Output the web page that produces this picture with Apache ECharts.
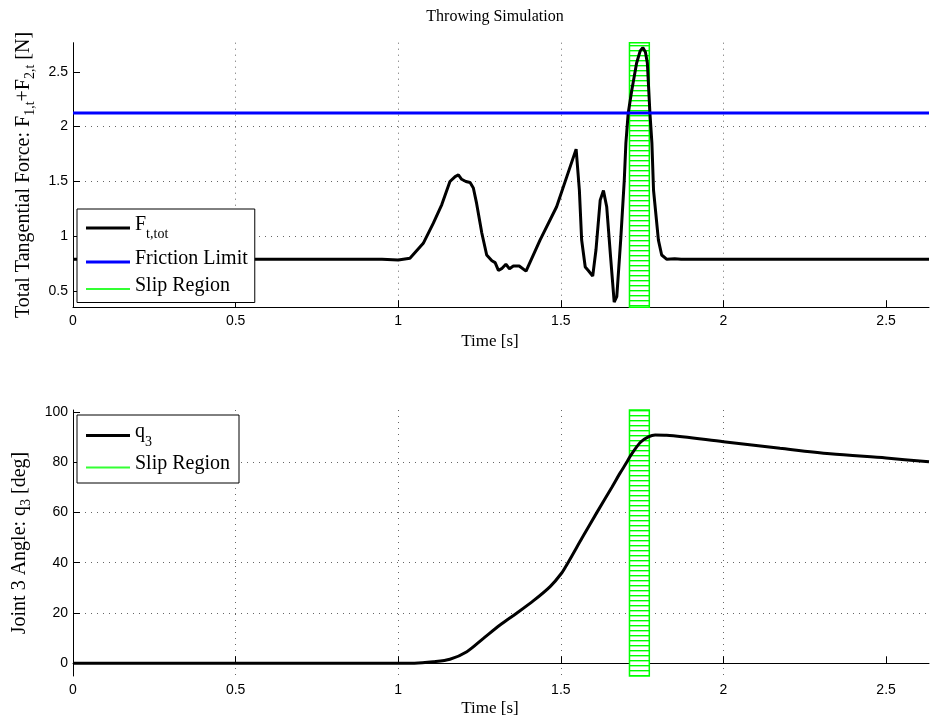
<!DOCTYPE html>
<html>
<head>
<meta charset="utf-8">
<script src="https://cdn.jsdelivr.net/npm/echarts@6/dist/echarts.min.js"></script>
<style>
html,body{margin:0;padding:0;background:#fff;}
#c{width:930px;height:718px;}
</style>
</head>
<body>
<div id="c"></div>
<script>
// ---------- data ----------
var xTicks = [0, 0.5, 1, 1.5, 2, 2.5];
var fTicks = [0.5, 1, 1.5, 2, 2.5];
var qTicks = [0, 20, 40, 60, 80, 100];

var tForce = [0, 0.95, 1.0, 1.036, 1.077, 1.108, 1.134, 1.159, 1.175, 1.185, 1.195, 1.208, 1.221, 1.231, 1.241, 1.257, 1.272, 1.288, 1.298, 1.308, 1.318, 1.331, 1.342, 1.354, 1.372, 1.393, 1.436, 1.487, 1.547, 1.557, 1.564, 1.575, 1.585, 1.598, 1.608, 1.621, 1.631, 1.641, 1.653, 1.664, 1.672, 1.684, 1.695, 1.700, 1.707, 1.718, 1.733, 1.744, 1.752, 1.760, 1.766, 1.774, 1.780, 1.785, 1.800, 1.810, 1.826, 1.850, 1.870, 2.0, 2.632];
var force = [0.79, 0.79, 0.785, 0.80, 0.936, 1.12, 1.29, 1.50, 1.545, 1.56, 1.52, 1.50, 1.49, 1.44, 1.30, 1.03, 0.83, 0.777, 0.76, 0.69, 0.705, 0.745, 0.705, 0.73, 0.73, 0.683, 0.966, 1.27, 1.795, 1.42, 0.966, 0.72, 0.686, 0.637, 0.875, 1.33, 1.417, 1.27, 0.81, 0.40, 0.45, 0.966, 1.51, 1.85, 2.12, 2.33, 2.58, 2.69, 2.72, 2.68, 2.58, 2.12, 1.85, 1.42, 0.966, 0.83, 0.79, 0.795, 0.79, 0.79, 0.79];

var frictionT = [0, 2.632];
var frictionF = [2.125, 2.125];

var slipStart = 1.711;
var slipEnd = 1.772;

var tAngle = [0, 1.05, 1.108, 1.159, 1.211, 1.262, 1.313, 1.364, 1.416, 1.467, 1.502, 1.522, 1.566, 1.611, 1.657, 1.682, 1.703, 1.713, 1.744, 1.769, 1.790, 1.825, 2.0, 2.174, 2.328, 2.5, 2.632];
var angle = [0, 0.05, 0.6, 1.6, 4.6, 9.9, 15.2, 19.9, 24.9, 30.5, 35.8, 40.0, 50.0, 60.0, 70.0, 75.6, 80.0, 82.3, 87.8, 90.0, 90.8, 90.7, 88.1, 85.5, 83.3, 81.6, 80.1];

// ---------- build ----------
function pairs(xs, ys) { return xs.map(function (x, i) { return [x, ys[i]]; }); }

var serif = "'Liberation Serif','Times New Roman',serif";
var sans = "'Liberation Sans',Arial,sans-serif";

var canvas = document.createElement('canvas');
canvas.width = 4; canvas.height = 5;
var ctx = canvas.getContext('2d');
ctx.fillStyle = '#ffffff'; ctx.fillRect(0, 0, 4, 5);
ctx.fillStyle = '#00ff00'; ctx.fillRect(0, 0, 4, 1.4);

var slipArea = {
  silent: true,
  itemStyle: { color: { image: canvas, repeat: 'repeat' }, borderColor: '#00ff00', borderWidth: 1.5, opacity: 1 },
  data: [[{ xAxis: slipStart }, { xAxis: slipEnd }]]
};

function xAxisOpt(gi, gap) {
  return {
    type: 'value', gridIndex: gi, min: 0, max: 2.632,
    name: 'Time [s]', nameLocation: 'middle', nameGap: gap,
    nameTextStyle: { fontFamily: serif, fontSize: 17, color: '#000', padding: [0, 22, 0, 0] },
    axisLine: { lineStyle: { color: '#000', width: 1 } },
    axisTick: { inside: true, length: 7, customValues: xTicks, lineStyle: { color: '#000' } },
    axisLabel: { customValues: xTicks, fontFamily: sans, fontSize: 14, color: '#000', margin: 7 },
    splitLine: { show: true, showMinLine: false, showMaxLine: false, lineStyle: { color: '#666', type: [1, 5], width: 1 } }
  };
}
function yAxisOpt(gi, min, max, ticks, nameRich) {
  return {
    type: 'value', gridIndex: gi, min: min, max: max,
    name: nameRich, nameLocation: 'middle', nameRotate: 90, nameGap: 26,
    nameTextStyle: {
      fontFamily: serif, fontSize: 20, color: '#000',
      rich: {
        n: { fontFamily: serif, fontSize: 20, color: '#000' },
        s: { fontFamily: serif, fontSize: 14, color: '#000', padding: [13, 0, 0, 0] }
      }
    },
    axisLine: { lineStyle: { color: '#000', width: 1 } },
    axisTick: { inside: true, length: 7, customValues: ticks, lineStyle: { color: '#000' } },
    axisLabel: { customValues: ticks, fontFamily: sans, fontSize: 14, color: '#000', margin: 5 },
    splitLine: { show: true, showMinLine: false, showMaxLine: false, lineStyle: { color: '#666', type: [1, 5], width: 1 } }
  };
}

var legendRich = {
  n: { fontFamily: serif, fontSize: 20, color: '#000', lineHeight: 27, verticalAlign: 'top' },
  s: { fontFamily: serif, fontSize: 14, color: '#000', lineHeight: 12, padding: [15, 0, 0, 0], verticalAlign: 'bottom' }
};
function legendFmt(name) {
  if (name === 'F_{t,tot}') return '{n|F}{s|t,tot}';
  if (name === 'q_3') return '{n|q}{s|3}';
  return '{n|' + name + '}';
}
var thinIcon = 'path://M0 0H44V2H0Z';

var option = {
  animation: false,
  backgroundColor: '#fff',
  title: {
    text: 'Throwing Simulation', left: 490, top: 4, textAlign: 'center',
    textStyle: { fontFamily: serif, fontSize: 16, fontWeight: 'normal', color: '#000' }
  },
  grid: [
    { left: 73, right: 1, top: 42.7, height: 264.5 },
    { left: 73, right: 1, top: 410, height: 266 }
  ],
  xAxis: [xAxisOpt(0, 26), xAxisOpt(1, 24)],
  yAxis: [
    yAxisOpt(0, 0.354, 2.765, fTicks, '{n|Total Tangential Force: F}{s|1,t}{n|+F}{s|2,t}{n| [N]}'),
    yAxisOpt(1, -5.05, 100.7, qTicks, '{n|Joint 3 Angle: q}{s|3}{n| [deg]}')
  ],
  legend: [
    {
      left: 77, top: 209, orient: 'vertical', itemGap: 7,
      itemWidth: 44, itemHeight: 3, icon: 'rect',
      padding: [3.5, 7, 7, 9],
      borderColor: '#000', borderWidth: 1, backgroundColor: '#fff', borderRadius: 0,
      data: ['F_{t,tot}', 'Friction Limit', { name: 'Slip Region', icon: thinIcon }],
      formatter: legendFmt,
      textStyle: { fontFamily: serif, fontSize: 20, color: '#000', rich: legendRich },
      selectedMode: false
    },
    {
      left: 77, top: 415, orient: 'vertical', itemGap: 5,
      itemWidth: 44, itemHeight: 3, icon: 'rect',
      padding: [5, 9, 9, 9],
      borderColor: '#000', borderWidth: 1, backgroundColor: '#fff', borderRadius: 0,
      data: ['q_3', { name: 'Slip Region', icon: thinIcon }],
      formatter: legendFmt,
      textStyle: { fontFamily: serif, fontSize: 20, color: '#000', rich: legendRich },
      selectedMode: false
    }
  ],
  series: [
    {
      name: 'F_{t,tot}', type: 'line', xAxisIndex: 0, yAxisIndex: 0,
      data: pairs(tForce, force), showSymbol: false, symbol: 'none', smooth: false,
      color: '#000', lineStyle: { color: '#000', width: 3 }, z: 3
    },
    {
      name: 'Friction Limit', type: 'line', xAxisIndex: 0, yAxisIndex: 0,
      data: pairs(frictionT, frictionF), showSymbol: false, symbol: 'none',
      color: '#0000ff', lineStyle: { color: '#0000ff', width: 3 }, z: 3
    },
    {
      name: 'Slip Region', type: 'line', xAxisIndex: 0, yAxisIndex: 0,
      data: [], symbol: 'none', color: '#33ff33', lineStyle: { color: '#33ff33', width: 1.5 },
      markArea: slipArea, z: 5
    },
    {
      name: 'q_3', type: 'line', xAxisIndex: 1, yAxisIndex: 1,
      data: pairs(tAngle, angle), showSymbol: false, symbol: 'none', smooth: 0.3,
      color: '#000', lineStyle: { color: '#000', width: 3 }, z: 3
    },
    {
      name: 'Slip Region', type: 'line', xAxisIndex: 1, yAxisIndex: 1,
      data: [], symbol: 'none', color: '#33ff33', lineStyle: { color: '#33ff33', width: 1.5 },
      markArea: slipArea, z: 5
    }
  ]
};

var chart = echarts.init(document.getElementById('c'), null, { renderer: 'canvas' });
chart.setOption(option);
</script>
</body>
</html>
